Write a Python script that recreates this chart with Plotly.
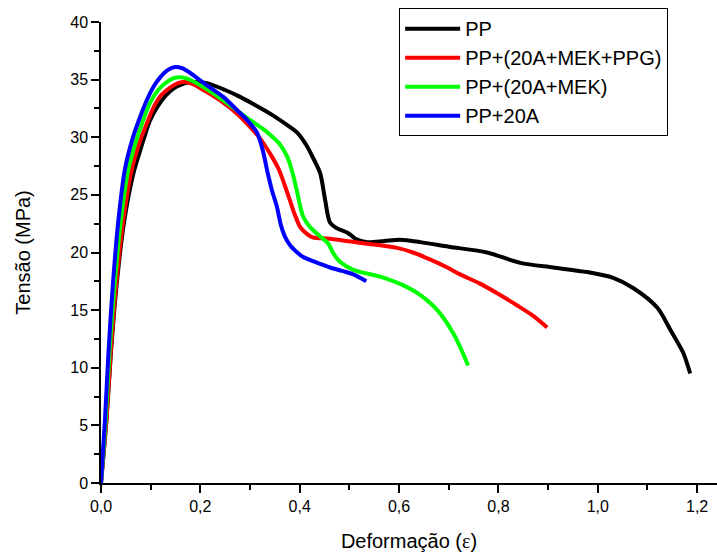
import plotly.graph_objects as go

# PP
pp_x = [0, 0.011, 0.02, 0.031, 0.047, 0.066, 0.08, 0.098, 0.113, 0.13, 0.145, 0.16, 0.175, 0.19,
        0.213, 0.25, 0.28, 0.31, 0.346, 0.38, 0.395, 0.415, 0.427, 0.441, 0.451, 0.461, 0.475, 0.497,
        0.512, 0.536, 0.57, 0.602, 0.643, 0.7, 0.777, 0.844, 0.91, 0.979, 1.031, 1.072, 1.12, 1.146,
        1.172, 1.186]
pp_y = [0, 5.5, 11.3, 17.0, 22.8, 27.0, 29.0, 31.4, 32.6, 33.6, 34.2, 34.55, 34.75, 34.8,
        34.7, 34.1, 33.5, 32.8, 31.9, 30.9, 30.4, 29.2, 28.2, 26.9, 24.6, 22.6, 22.1, 21.7,
        21.2, 20.9, 21.0, 21.1, 20.9, 20.5, 20.0, 19.1, 18.7, 18.3, 17.8, 16.9, 15.2, 13.3,
        11.3, 9.5]

# PP+(20A+MEK+PPG)
ppg_x = [0, 0.011, 0.0195, 0.030, 0.045, 0.062, 0.078, 0.095, 0.107, 0.12, 0.139, 0.155, 0.169,
         0.185, 0.21, 0.246, 0.275, 0.30, 0.32, 0.34, 0.358, 0.375, 0.39, 0.401, 0.415, 0.427, 0.461,
         0.528, 0.596, 0.628, 0.662, 0.697, 0.723, 0.763, 0.8, 0.838, 0.87, 0.898]
ppg_y = [0, 5.5, 11.3, 17.0, 22.8, 27.2, 29.6, 31.5, 32.7, 33.6, 34.3, 34.7, 34.8,
         34.6, 34.0, 33.0, 32.0, 30.9, 29.9, 28.6, 27.2, 25.2, 23.3, 22.2, 21.6, 21.3, 21.2,
         20.8, 20.4, 20.0, 19.4, 18.7, 18.1, 17.3, 16.4, 15.4, 14.5, 13.5]

# PP+(20A+MEK)
mek_x = [0, 0.0095, 0.017, 0.027, 0.040, 0.055, 0.07, 0.085, 0.099, 0.115, 0.133, 0.148, 0.159,
         0.172, 0.2, 0.246, 0.3, 0.33, 0.346, 0.36, 0.375, 0.385, 0.394, 0.407, 0.421, 0.441, 0.457,
         0.468, 0.481, 0.508, 0.562, 0.616, 0.643, 0.677, 0.709, 0.725, 0.739]
mek_y = [0, 5.5, 11.3, 17.0, 22.8, 27.2, 29.6, 31.5, 33.0, 34.1, 34.8, 35.15, 35.2,
         35.1, 34.5, 33.2, 31.5, 30.6, 30.0, 29.4, 28.3, 27.0, 25.4, 23.1, 22.2, 21.4, 20.8,
         19.9, 19.2, 18.5, 17.9, 17.0, 16.3, 15.0, 13.0, 11.6, 10.2]

# PP+20A
a20_x = [0, 0.008, 0.015, 0.0235, 0.035, 0.048, 0.063, 0.079, 0.093, 0.106, 0.119, 0.135, 0.149,
         0.163, 0.179, 0.21, 0.246, 0.275, 0.294, 0.314, 0.326, 0.335, 0.344, 0.354, 0.362, 0.37,
         0.381, 0.395, 0.407, 0.43, 0.461, 0.485, 0.508, 0.534]
a20_y = [0, 5.5, 11.3, 17.0, 22.8, 27.2, 29.8, 31.8, 33.3, 34.4, 35.2, 35.85, 36.1,
         36.0, 35.6, 34.6, 33.5, 32.3, 31.5, 30.4, 28.8, 27.0, 25.4, 24.0, 22.4, 21.4,
         20.6, 20.0, 19.6, 19.2, 18.7, 18.4, 18.1, 17.5]

series = [
    ("PP", pp_x, pp_y, "#000000"),
    ("PP+(20A+MEK+PPG)", ppg_x, ppg_y, "#FF0000"),
    ("PP+(20A+MEK)", mek_x, mek_y, "#00FF00"),
    ("PP+20A", a20_x, a20_y, "#0000FF"),
]

fig = go.Figure()
for name, xs, ys, col in series:
    fig.add_trace(go.Scatter(x=xs, y=ys, mode="lines", name=name,
                             line=dict(color=col, width=4, shape="spline", smoothing=0.8)))

font = "Liberation Sans"
fig.update_layout(
    width=717, height=555,
    margin=dict(l=101, r=0, t=22, b=72),
    paper_bgcolor="white", plot_bgcolor="white",
    separators=",.",
    font=dict(family=font, color="#000000", size=16),
    showlegend=True,
    legend=dict(x=0.484, y=1.03, xanchor="left", yanchor="top",
                bgcolor="white", bordercolor="#000000", borderwidth=1,
                font=dict(size=20, family=font), itemwidth=55,
                tracegroupgap=0),
    xaxis=dict(range=[0, 1.24], showgrid=False, zeroline=False,
               showline=True, linecolor="#000000", linewidth=1.5,
               ticks="outside", ticklen=8, tickwidth=1.5, tickcolor="#000000",
               tick0=0, dtick=0.2, tickformat=".1f",
               minor=dict(ticks="outside", ticklen=5, tickwidth=1.5, dtick=0.1, tick0=0, tickcolor="#000000"),
               tickfont=dict(size=16),
               title=dict(text="Deformação (<span style=\"font-family:'Liberation Serif', serif\">ε</span>)",
                          font=dict(size=20), standoff=20)),
    yaxis=dict(range=[0, 40], showgrid=False, zeroline=False,
               showline=True, linecolor="#000000", linewidth=1.5,
               ticks="outside", ticklen=8, tickwidth=1.5, tickcolor="#000000",
               tick0=0, dtick=5,
               minor=dict(ticks="outside", ticklen=5, tickwidth=1.5, dtick=2.5, tick0=0, tickcolor="#000000"),
               tickfont=dict(size=16),
               title=dict(text="Tensão (MPa)", font=dict(size=20), standoff=34)),
)

fig.write_html("out.html")
